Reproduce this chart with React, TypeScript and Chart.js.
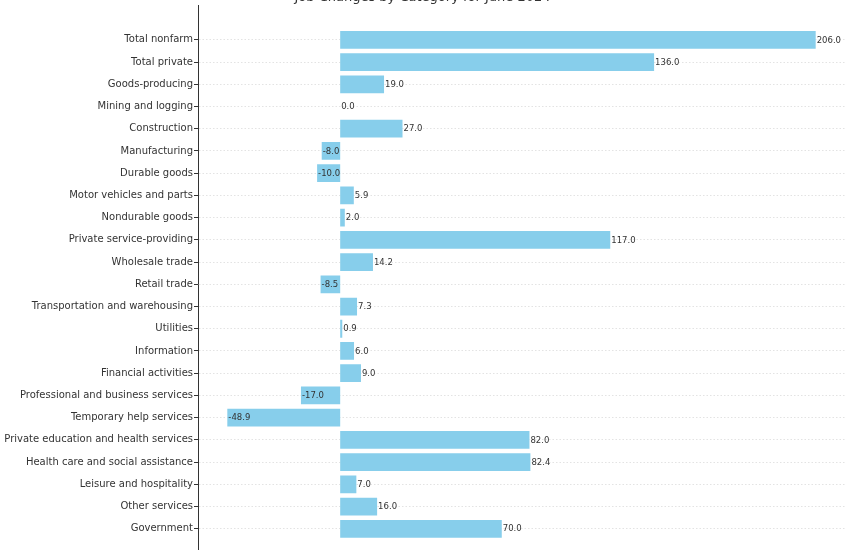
import React, { useEffect, useRef } from "react";
import { Chart, registerables } from "chart.js";

Chart.register(...registerables);

const chartTitle = "Job Changes by Category for June 2024";

const categories = [
  "Total nonfarm",
  "Total private",
  "Goods-producing",
  "Mining and logging",
  "Construction",
  "Manufacturing",
  "Durable goods",
  "Motor vehicles and parts",
  "Nondurable goods",
  "Private service-providing",
  "Wholesale trade",
  "Retail trade",
  "Transportation and warehousing",
  "Utilities",
  "Information",
  "Financial activities",
  "Professional and business services",
  "Temporary help services",
  "Private education and health services",
  "Health care and social assistance",
  "Leisure and hospitality",
  "Other services",
  "Government",
];

const values = [
  206.0, 136.0, 19.0, 0.0, 27.0, -8.0, -10.0, 5.9, 2.0, 117.0, 14.2, -8.5, 7.3,
  0.9, 6.0, 9.0, -17.0, -48.9, 82.0, 82.4, 7.0, 16.0, 70.0,
];

const FONT = "'DejaVu Sans', sans-serif";

export default function App() {
  const ref = useRef<HTMLCanvasElement>(null);

  useEffect(() => {
    if (!ref.current) return;
    const valueLabels = {
      id: "valueLabels",
      afterDatasetsDraw(chart: any) {
        const ctx = chart.ctx;
        const xs = chart.scales.x;
        const ys = chart.scales.y;
        ctx.save();
        ctx.font = `8.5px ${FONT}`;
        ctx.fillStyle = "#333";
        ctx.textAlign = "left";
        ctx.textBaseline = "middle";
        values.forEach((v, i) => {
          ctx.fillText(v.toFixed(1), xs.getPixelForValue(v) + 1, ys.getPixelForValue(i) + 0.5);
        });
        ctx.restore();
      },
    };

    const chart = new Chart(ref.current, {
      type: "bar",
      data: {
        datasets: [
          {
            data: values.map((v, i) => ({ x: v, y: i })),
            backgroundColor: "#87CEEB",
            borderWidth: 0,
            categoryPercentage: 1,
            barPercentage: 0.8,
          },
        ],
      },
      options: {
        indexAxis: "y",
        animation: false,
        responsive: false,
        layout: { padding: { left: 0, right: 5, top: 0, bottom: 26 } },
        plugins: {
          legend: { display: false },
          tooltip: { enabled: false },
          title: {
            display: true,
            text: chartTitle,
            color: "#333",
            font: { family: FONT, size: 13, weight: "normal" },
            padding: { top: 1, bottom: 0 },
          },
        },
        scales: {
          x: { type: "linear", display: false, min: -61.6, max: 218.7 },
          y: {
            type: "linear",
            reverse: true,
            offset: false,
            min: -1.54,
            max: 23.54,
            afterBuildTicks: (s: any) => {
              s.ticks = categories.map((_, i) => ({ value: i }));
            },
            afterFit: (s: any) => {
              s.width = 198;
            },
            ticks: {
              autoSkip: false,
              padding: 1,
              color: "#333",
              font: { family: FONT, size: 10 },
              callback: (v: any) => categories[v as number] ?? "",
            },
            grid: {
              offset: false,
              color: "rgba(0,0,0,0.14)",
              lineWidth: 0.8,
              tickLength: 4,
              tickColor: "#333",
              tickWidth: 1,
              drawTicks: true,
            },
            border: { display: true, color: "#333", width: 1, dash: [1.5, 2] },
          },
        },
      },
      plugins: [valueLabels],
    } as any);

    return () => chart.destroy();
  }, []);

  return (
    <div
      style={{
        position: "fixed",
        top: 0,
        left: 0,
        width: 850,
        height: 550,
        overflow: "hidden",
        background: "#fff",
      }}
    >
      <canvas
        ref={ref}
        width={850}
        height={600}
        style={{ position: "absolute", top: -11, left: 0, width: 850, height: 600 }}
      />
    </div>
  );
}
